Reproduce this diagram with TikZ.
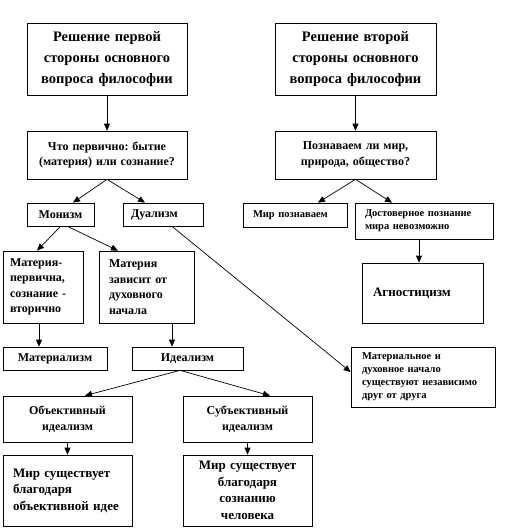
\documentclass[tikz,border=0pt]{standalone}
\usepackage{fontspec}
\setmainfont{Liberation Serif}
\frenchspacing
\usetikzlibrary{arrows.meta}

\begin{document}
\begin{tikzpicture}[x=1pt, y=-1pt,
        blk/.style={draw, line width=0.7pt, inner sep=0pt, inner xsep=10pt, align=left},
        big/.style={font=\fontsize{14.5}{21}\selectfont\bfseries},
        mid/.style={font=\fontsize{13}{16.5}\selectfont\bfseries},
        nrw/.style={font=\fontsize{12}{15.5}\selectfont\bfseries},
        sml/.style={font=\fontsize{10.5}{13}\selectfont\bfseries},
        arr/.style={-{Triangle[length=7pt,width=6pt]}, line width=0.7pt}]
        \useasboundingbox (0,0) rectangle (523,531);
        % first side
        \node[blk, big, align=center, text width=150pt, inner xsep=5pt, minimum height=72pt] (a) at (107,59) {Решение первой\\стороны основного\\вопроса философии};
        \node[blk, nrw, align=center, text width=150pt, inner xsep=5pt, minimum height=48pt] (q1) at (107,155) {Что первично: бытие\\(материя) или сознание?};
        \node[blk, nrw, align=center, text width=57pt, inner xsep=5pt, minimum height=23pt] (mon) at (60.5,214.5) {Монизм};
        \node[blk, nrw, text width=64pt, inner xsep=8pt, minimum height=23pt] (dual) at (163,214.5) {Дуализм};
        \node[blk, nrw, text width=66pt, inner xsep=7pt, minimum height=72pt] (matp) at (43,287) {Материя-\\первична,\\сознание -\\вторично};
        \node[blk, nrw, text width=75pt, minimum height=72pt] (matz) at (146.5,287) {Материя\\зависит от\\духовного\\начала};
        \node[blk, nrw, align=center, text width=94pt, inner xsep=5pt, minimum height=23pt] (mlz) at (55,358.5) {Материализм};
        \node[blk, nrw, align=center, text width=101pt, inner xsep=5pt, minimum height=23pt] (idl) at (187.5,358.5) {Идеализм};
        \node[blk, nrw, align=center, text width=119pt, inner xsep=5pt, minimum height=46pt] (obj) at (67.5,419) {Объективный\\идеализм};
        \node[blk, nrw, align=center, text width=119pt, inner xsep=5pt, minimum height=46pt] (sub) at (247.5,419) {Субъективный\\идеализм};
        \node[blk, mid, text width=109pt, minimum height=71pt] (mir1) at (67.5,490.5) {Мир существует\\благодаря\\объективной идее};
        \node[blk, mid, align=center, text width=119pt, inner xsep=5pt, minimum height=71pt] (mir2) at (247.5,490.5) {Мир существует\\благодаря\\сознанию\\человека};
        % second side
        \node[blk, big, align=center, text width=151pt, inner xsep=5pt, minimum height=72pt] (b) at (355.5,59) {Решение второй\\стороны основного\\вопроса философии};
        \node[blk, nrw, align=center, text width=151pt, inner xsep=5pt, minimum height=48pt] (q2) at (355.5,155) {Познаваем ли мир,\\природа, общество?};
        \node[blk, sml, text width=84pt, minimum height=24pt] (mirp) at (295,215) {Мир познаваем};
        \node[blk, sml, text width=118pt, minimum height=36pt] (dost) at (424,221) {Достоверное познание\\мира невозможно};
        \node[blk, mid, text width=99pt, inner xsep=11pt, minimum height=60pt] (agn) at (422.5,293) {Агностицизм};
        \node[blk, sml, text width=122pt, inner xsep=11pt, minimum height=60pt] (matn) at (423,377) {Материальное и\\духовное начало\\существуют независимо\\друг от друга};
        % connectors
        \foreach \s/\t in {a/q1, b/q2, obj/mir1, sub/mir2}
            \draw[arr] (\s) -- (\t);
        \draw[arr] (q1.south) -- ([xshift=12.5pt]mon.north);
        \draw[arr] (q1.south) -- ([xshift=-18pt]dual.north);
        \draw[arr] (q2.south) -- ([xshift=23pt]mirp.north);
        \draw[arr] (q2.south) -- ([xshift=-32pt]dost.north);
        \draw[arr] ([xshift=-5pt]dost.south) -- ([xshift=-3.5pt]agn.north);
        \draw[arr] (mon.south) -- ([xshift=-6pt]matp.north);
        \draw[arr] ([xshift=7pt]mon.south) -- ([xshift=-28.5pt]matz.north);
        \draw[arr] ([xshift=9pt]dual.south) -- ([yshift=5pt]matn.west);
        \draw[arr] ([xshift=-4pt]matp.south) -- ([xshift=-16pt]mlz.north);
        \draw[arr] ([xshift=25.5pt]matz.south) -- ([xshift=-15.5pt]idl.north);
        \draw[arr] ([xshift=-7.5pt]idl.south) -- ([xshift=17.5pt]obj.north);
        \draw[arr] ([xshift=-7.5pt]idl.south) -- ([xshift=22.5pt]sub.north);
    \end{tikzpicture}
\end{document}
